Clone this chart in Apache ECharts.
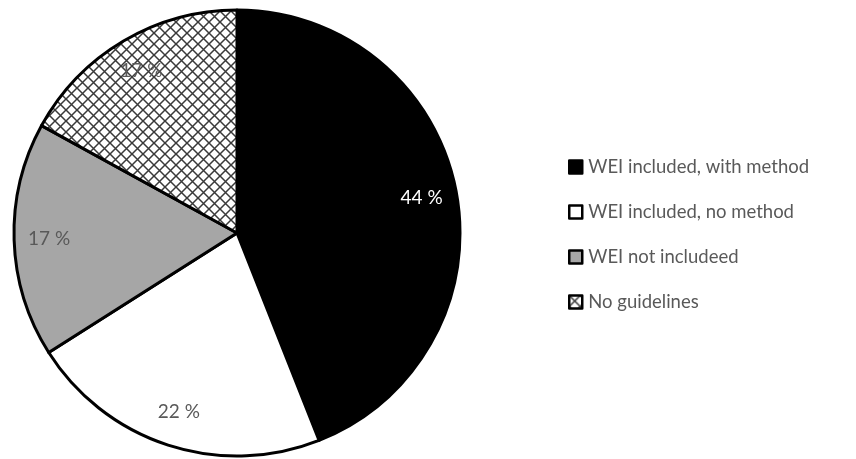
<!DOCTYPE html>
<html>
<head>
<meta charset="utf-8">
<style>
  html, body { margin: 0; padding: 0; background: #ffffff; }
  #chart { width: 856px; height: 459px; }
</style>
<script src="https://cdn.jsdelivr.net/npm/echarts@6/dist/echarts.min.js"></script>
</head>
<body>
<div id="chart"></div>
<script>
// Share of guideline documents by how WEI is handled
const categories = [
  'WEI included, with method',
  'WEI included, no method',
  'WEI not includeed',
  'No guidelines'
];
const shares = [44, 22, 17, 17];

// Cross-hatch tile used for the "No guidelines" slice
function makeHatch(size) {
  const c = document.createElement('canvas');
  c.width = size; c.height = size;
  const ctx = c.getContext('2d');
  ctx.fillStyle = '#ffffff';
  ctx.fillRect(0, 0, size, size);
  ctx.strokeStyle = '#3a3a3a';
  ctx.lineWidth = 1.5;
  for (const off of [-size, 0, size]) {
    ctx.beginPath();
    ctx.moveTo(off, 0); ctx.lineTo(off + size, size);
    ctx.moveTo(off + size, 0); ctx.lineTo(off, size);
    ctx.stroke();
  }
  return c;
}

const fills = ['#000000', '#ffffff', '#a6a6a6', { image: makeHatch(11), repeat: 'repeat' }];
const labelColors = ['#ffffff', '#595959', '#595959', '#595959'];

const FONT = 'Lato, "Open Sans", sans-serif';
const center = [237, 233];

const chart = echarts.init(document.getElementById('chart'), null, { renderer: 'canvas' });

chart.setOption({
  animation: false,
  legend: {
    orient: 'vertical',
    left: 563,
    top: 152,
    icon: 'rect',
    itemWidth: 13,
    itemHeight: 13,
    itemGap: 25,
    itemStyle: { borderColor: '#000000', borderWidth: 2.5 },
    textStyle: { color: '#595959', fontSize: 18.5, lineHeight: 20, fontFamily: FONT, padding: [0, 0, 0, 1] },
    data: categories,
    selectedMode: false
  },
  series: [
    {
      type: 'pie',
      center: center,
      radius: [0, 223],
      startAngle: 90,
      clockwise: true,
      silent: true,
      label: { show: false },
      labelLine: { show: false },
      itemStyle: { borderColor: '#000000', borderWidth: 3 },
      data: categories.map((name, i) => ({
        name: name,
        value: shares[i],
        itemStyle: { color: fills[i] }
      }))
    },
    {
      // transparent ring that carries the percentage labels
      type: 'pie',
      center: center,
      radius: [148, 222],
      startAngle: 90,
      clockwise: true,
      silent: true,
      legendHoverLink: false,
      itemStyle: { color: 'rgba(0,0,0,0)', borderWidth: 0 },
      labelLine: { show: false },
      label: {
        show: true,
        position: 'inside',
        fontSize: 19,
        fontFamily: FONT,
        formatter: p => p.value + ' %'
      },
      data: categories.map((name, i) => ({
        name: name + ' ',
        value: shares[i],
        label: { color: labelColors[i] }
      }))
    }
  ]
});
</script>
</body>
</html>
